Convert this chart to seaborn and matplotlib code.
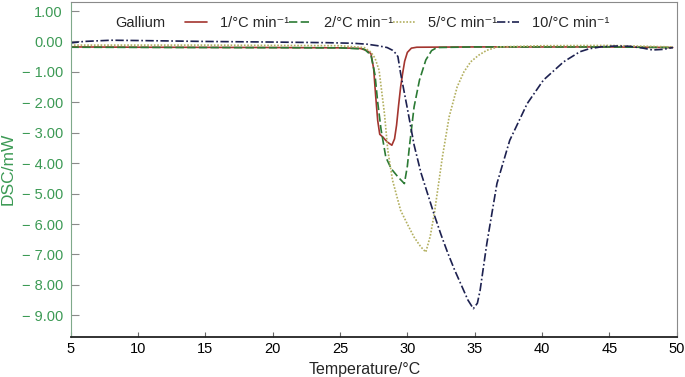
import numpy as np
import pandas as pd
import seaborn as sns
import matplotlib.pyplot as plt

# DSC curves of gallium
t_1 = [5, 10, 20, 25, 26.5, 27.0, 27.3, 27.5, 27.65, 27.8, 27.95, 28.2, 28.5, 28.85, 29.05,
       29.2, 29.35, 29.5, 29.65, 29.8, 30.0, 30.3, 30.7, 35, 40, 45, 49.7]
dsc_1 = [-0.18, -0.19, -0.2, -0.21, -0.23, -0.3, -0.4, -0.9, -1.8, -2.6, -3.05, -3.15, -3.3, -3.41, -3.2,
         -2.75, -2.1, -1.5, -1.05, -0.65, -0.36, -0.22, -0.19, -0.18, -0.18, -0.18, -0.2]

t_2 = [5, 15, 25, 26.8, 27.3, 27.6, 27.8, 28.05, 28.4, 28.8, 29.3, 29.78, 30.0, 30.15, 30.5,
       30.9, 31.37, 31.8, 32.2, 35, 40, 45, 49.7]
dsc_2 = [-0.19, -0.2, -0.21, -0.25, -0.45, -1.1, -2.0, -2.9, -3.8, -4.18, -4.45, -4.67, -4.1, -3.47, -2.15,
         -1.27, -0.61, -0.3, -0.2, -0.18, -0.18, -0.18, -0.2]

t_5 = [5, 15, 25, 26.8, 27.3, 27.6, 27.9, 28.3, 28.55, 28.9, 29.5, 30.0, 30.5, 31.0, 31.37,
       31.7, 32.0, 32.6, 33.1, 33.7, 34.2, 34.7, 35.3, 35.9, 36.7, 40, 45, 49.7]
dsc_5 = [-0.12, -0.12, -0.14, -0.2, -0.35, -0.55, -0.94, -2.37, -3.58, -4.56, -5.55, -6.0, -6.43, -6.75, -6.92,
         -6.4, -5.66, -3.8, -2.48, -1.49, -1.0, -0.67, -0.45, -0.29, -0.18, -0.14, -0.13, -0.18]

t_10 = [5, 6, 8, 10, 15, 20, 24, 26, 27, 27.8, 28.5, 28.9, 29.15, 29.3, 29.5, 30.0, 30.5, 31.0,
        31.5, 32.0, 32.5, 33.0, 33.5, 34.0, 34.5, 34.9, 35.2, 35.4, 35.9, 36.65, 37.6, 38.9, 40.1,
        41.6, 42.8, 43.5, 44.5, 45.5, 46.5, 47.5, 48.2, 49, 49.7]
dsc_10 = [-0.05, 0.0, 0.04, 0.03, 0.0, -0.02, -0.04, -0.06, -0.09, -0.14, -0.2, -0.29, -0.4, -0.5, -1.05,
          -2.2, -3.4, -4.3, -5.0, -5.7, -6.35, -6.95, -7.5, -8.0, -8.5, -8.78, -8.6, -8.18, -6.64, -4.67,
          -3.25, -2.04, -1.27, -0.67, -0.34, -0.24, -0.17, -0.15, -0.16, -0.22, -0.28, -0.26, -0.2]

rates = ["1/°C min⁻¹", "2/°C min⁻¹", "5/°C min⁻¹", "10/°C min⁻¹"]
x_ticks = [5, 10, 15, 20, 25, 30, 35, 40, 45, 50]
y_ticks = [1, 0, -1, -2, -3, -4, -5, -6, -7, -8, -9]
y_labels = ["1.00", "0.00", "− 1.00", "− 2.00", "− 3.00", "− 4.00", "− 5.00",
            "− 6.00", "− 7.00", "− 8.00", "− 9.00"]

colors = ["#a3352f", "#2b7a34", "#b3b060", "#1d2150"]
styles = ["-", (0, (5, 2)), (0, (1, 1)), (0, (5, 1.5, 1, 1.5))]

sns.set_style("white")
plt.rcParams["font.family"] = ["Liberation Sans", "DejaVu Sans"]
green = "#3c9a55"

fig, ax = plt.subplots(figsize=(6.85, 3.77), dpi=100)
fig.subplots_adjust(left=0.103, right=0.988, top=0.995, bottom=0.107)

for t, d, lab, c, ls in zip([t_1, t_2, t_5, t_10], [dsc_1, dsc_2, dsc_5, dsc_10], rates, colors, styles):
    df = pd.DataFrame({"T": t, "DSC": d})
    sns.lineplot(data=df, x="T", y="DSC", color=c, linestyle=ls, linewidth=1.2, label=lab, ax=ax)

ax.set_xlim(5, 50)
ax.set_ylim(-9.7, 1.3)
ax.set_xticks(x_ticks)
ax.set_xticklabels([str(v) for v in x_ticks])
ax.set_yticks(y_ticks)
ax.set_yticklabels(y_labels)
ax.tick_params(axis="y", direction="in", length=6, width=0.8, color="#8a8a8a",
               labelcolor=green, labelsize=10.5, left=True, pad=5.5)
ax.tick_params(axis="x", direction="in", length=3.5, width=0.8, color="#666666",
               labelcolor="black", labelsize=10.5, bottom=True, pad=4)

for s in ["top", "right"]:
    ax.spines[s].set_color("#8a8a8a")
    ax.spines[s].set_linewidth(0.8)
ax.spines["left"].set_color("#7fa98a")
ax.spines["left"].set_linewidth(0.8)
ax.spines["bottom"].set_color("#222222")
ax.spines["bottom"].set_linewidth(1.3)

ax.set_xlabel("Temperature/°C", fontsize=11.5, labelpad=4)
ax.xaxis.set_label_coords(0.485, -0.075)
ax.set_ylabel("DSC/mW", fontsize=12.5, color=green, labelpad=4)

fig.text(115 / 685, 1 - 22.7 / 377, "Gallium", fontsize=10.5, va="center", ha="left")
ax.legend(loc="center left", bbox_to_anchor=(185 / 685, 1 - 22.7 / 377), bbox_transform=fig.transFigure,
          ncol=4, frameon=False, fontsize=10.5, handlelength=1.5, handletextpad=0.9,
          columnspacing=0.0, borderpad=0, borderaxespad=0)

plt.savefig("out.png", dpi=100)
